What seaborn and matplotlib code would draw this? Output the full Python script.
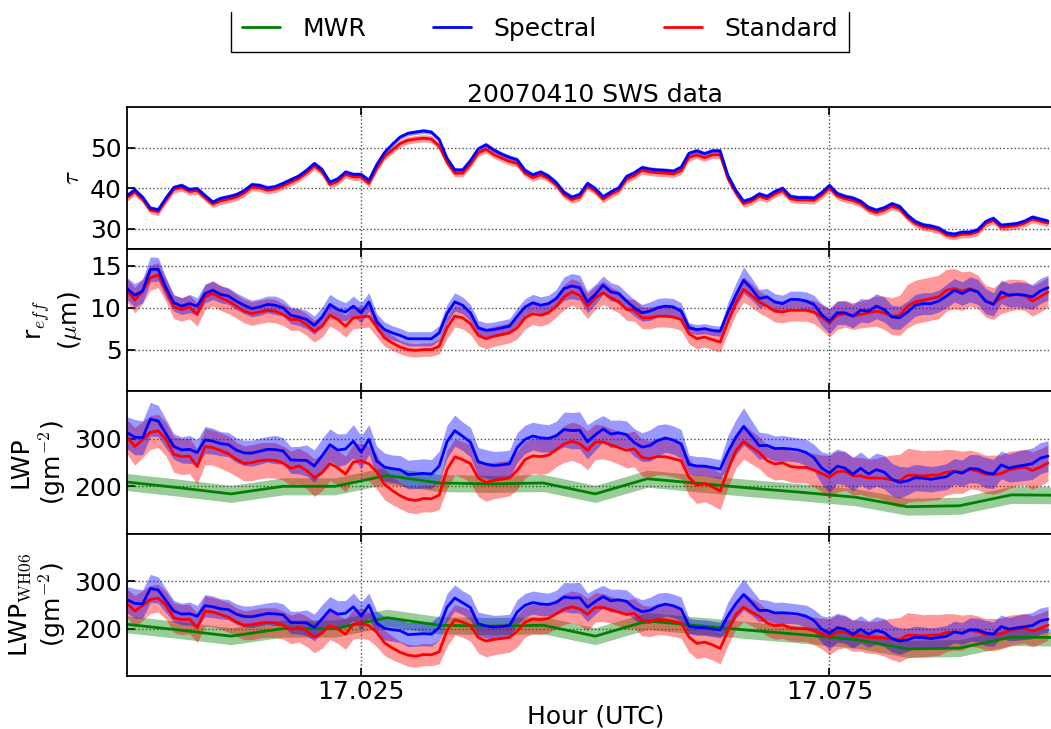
import numpy as np
import pandas as pd
import matplotlib
matplotlib.use("Agg")
import matplotlib.pyplot as plt
import seaborn as sns
from matplotlib.lines import Line2D
from matplotlib.ticker import FormatStrFormatter

# SWS retrievals, sampled every 3 s after 17:00 UTC on 2007-04-10
SECONDS = np.arange(0, 355, 3)

TAU_SPECTRAL = [
    38.2, 39.6, 37.8, 35.1, 34.7, 37.6, 40.2, 40.7, 39.7, 39.9,
    38.2, 36.6, 37.5, 37.9, 38.4, 39.4, 40.9, 40.7, 40.1, 40.4,
    41.2, 42.1, 43.0, 44.4, 46.1, 44.6, 41.5, 42.3, 44.0, 43.4,
    43.4, 41.9, 45.8, 48.8, 50.8, 52.6, 53.5, 53.8, 54.1, 53.8,
    52.0, 47.4, 44.5, 44.5, 46.8, 49.7, 50.7, 49.4, 48.4, 47.6,
    47.0, 44.4, 43.3, 44.0, 43.0, 41.4, 39.0, 37.8, 38.5, 41.2,
    39.9, 37.9, 39.1, 40.1, 42.9, 43.8, 45.1, 44.7, 44.5, 44.4,
    44.2, 45.2, 48.6, 49.2, 48.5, 49.2, 49.2, 43.1, 39.5, 36.8,
    37.4, 38.6, 38.0, 39.2, 40.0, 38.0, 37.7, 37.7, 37.6, 38.9,
    40.7, 38.7, 38.0, 37.6, 36.8, 35.3, 34.6, 35.2, 36.2, 35.5,
    33.4, 31.8, 31.0, 30.7, 30.2, 29.0, 28.7, 29.2, 29.2, 29.8,
    31.8, 32.6, 30.9, 31.1, 31.3, 31.9, 32.9, 32.4, 31.9,
]
TAU_STANDARD = [
    37.7, 39.1, 37.3, 34.6, 34.2, 37.1, 39.7, 40.2, 39.2, 39.4,
    37.7, 36.1, 36.9, 37.3, 37.8, 38.8, 40.3, 40.1, 39.5, 39.8,
    40.6, 41.5, 42.4, 43.8, 45.5, 44.0, 40.9, 41.7, 43.4, 42.8,
    42.8, 41.2, 44.9, 47.8, 49.4, 51.0, 51.8, 52.1, 52.3, 52.1,
    50.4, 46.4, 43.7, 43.7, 45.9, 48.7, 49.6, 48.3, 47.4, 46.6,
    46.1, 43.7, 42.6, 43.3, 42.4, 40.8, 38.4, 37.2, 37.8, 40.6,
    39.3, 37.3, 38.5, 39.5, 42.2, 43.1, 44.4, 44.0, 43.8, 43.7,
    43.5, 44.3, 47.6, 48.2, 47.5, 48.2, 48.2, 42.4, 38.9, 36.2,
    36.8, 38.0, 37.4, 38.6, 39.4, 37.4, 37.1, 37.1, 37.0, 38.3,
    40.1, 38.1, 37.4, 37.0, 36.2, 34.7, 34.0, 34.6, 35.6, 34.9,
    32.8, 31.3, 30.5, 30.2, 29.7, 28.5, 28.2, 28.7, 28.7, 29.3,
    31.3, 32.1, 30.4, 30.6, 30.8, 31.4, 32.4, 31.9, 31.4,
]
TAU_ERR_SPECTRAL = 0.6
TAU_ERR_STANDARD = 0.9

# effective radius (micron)
REFF_SPECTRAL = [
    12.3, 11.5, 12.0, 14.6, 14.6, 12.4, 10.6, 10.2, 10.5, 10.2,
    11.7, 12.1, 11.6, 11.4, 10.8, 10.3, 9.9, 10.1, 10.4, 10.3,
    10.0, 9.1, 8.9, 8.6, 7.9, 8.9, 10.4, 9.8, 9.5, 10.2,
    9.4, 10.7, 8.3, 7.4, 7.0, 6.7, 6.3, 6.3, 6.3, 6.3,
    7.0, 9.3, 10.7, 10.3, 9.4, 7.6, 7.3, 7.4, 7.6, 7.8,
    9.0, 10.1, 10.6, 10.3, 10.5, 11.1, 12.3, 12.6, 12.4, 10.7,
    11.6, 12.7, 11.9, 11.7, 10.8, 10.0, 9.4, 9.6, 10.0, 10.2,
    10.1, 9.6, 7.6, 7.4, 7.5, 7.3, 7.2, 9.5, 11.5, 13.3,
    12.3, 11.1, 11.3, 10.7, 10.5, 11.0, 11.0, 10.8, 10.4, 9.2,
    8.4, 9.4, 9.4, 9.0, 9.7, 9.6, 10.2, 9.8, 8.9, 8.8,
    9.5, 10.3, 10.5, 10.5, 10.8, 11.4, 12.1, 11.7, 12.2, 11.9,
    10.8, 10.4, 11.9, 11.5, 11.6, 11.5, 11.3, 12.0, 12.4,
]
REFF_STANDARD = [
    12.1, 10.9, 12.0, 13.6, 13.9, 12.1, 10.1, 9.8, 10.1, 9.2,
    11.3, 11.7, 11.2, 10.8, 10.2, 9.6, 9.3, 9.5, 9.7, 9.6,
    9.2, 8.6, 8.6, 8.0, 7.2, 7.8, 9.1, 8.6, 7.8, 8.8,
    8.9, 9.0, 7.7, 6.4, 5.8, 5.3, 5.0, 4.9, 5.0, 5.0,
    5.4, 7.6, 9.0, 8.8, 8.1, 6.7, 6.3, 6.6, 6.8, 7.0,
    7.6, 8.8, 9.3, 9.1, 9.4, 10.2, 11.3, 11.9, 11.5, 10.2,
    11.2, 11.8, 11.2, 10.7, 9.8, 9.7, 8.8, 8.8, 9.0, 9.0,
    8.9, 8.6, 6.9, 6.3, 6.5, 6.2, 5.9, 8.3, 10.6, 12.2,
    11.5, 10.7, 10.2, 9.6, 9.5, 9.7, 9.7, 9.7, 9.5, 8.9,
    8.2, 9.1, 9.3, 9.0, 9.2, 9.4, 9.6, 9.4, 9.0, 9.1,
    10.2, 10.7, 10.9, 11.1, 11.3, 12.1, 12.3, 12.0, 12.3, 11.9,
    10.8, 10.5, 11.2, 11.5, 11.6, 11.5, 10.8, 11.3, 11.9,
]
REFF_ERR_SPECTRAL = [
    1.3, 1.4, 1.4, 1.5, 1.4, 1.2, 1.0, 1.0, 1.1, 1.0,
    1.1, 1.1, 1.0, 1.0, 1.0, 1.0, 1.0, 1.0, 1.0, 1.1,
    1.0, 1.0, 1.0, 1.1, 1.1, 1.2, 1.2, 1.2, 1.1, 1.2,
    1.2, 1.1, 1.0, 0.9, 0.85, 0.85, 0.85, 0.85, 0.85, 0.85,
    0.9, 1.1, 1.1, 1.0, 1.0, 0.9, 0.9, 0.9, 0.9, 0.9,
    1.0, 1.0, 1.0, 1.0, 1.0, 1.1, 1.4, 1.5, 1.5, 1.3,
    1.2, 1.1, 1.1, 1.0, 1.0, 1.0, 1.0, 1.1, 1.1, 1.0,
    1.0, 1.0, 0.6, 0.6, 0.6, 0.6, 0.6, 1.2, 1.4, 1.6,
    1.3, 1.1, 1.0, 1.0, 1.0, 1.0, 1.0, 1.1, 1.1, 1.3,
    1.5, 1.4, 1.4, 1.4, 1.4, 1.4, 1.5, 1.5, 1.4, 1.4,
    1.3, 1.3, 1.3, 1.3, 1.3, 1.4, 1.4, 1.4, 1.5, 1.5,
    1.5, 1.4, 1.4, 1.4, 1.5, 1.5, 1.5, 1.5, 1.5,
]
REFF_ERR_STANDARD = [
    1.4, 1.5, 1.5, 1.5, 1.5, 1.4, 1.4, 1.4, 1.4, 1.4,
    1.5, 1.5, 1.5, 1.5, 1.4, 1.4, 1.4, 1.4, 1.4, 1.4,
    1.3, 1.3, 1.3, 1.3, 1.3, 1.3, 1.3, 1.3, 1.3, 1.3,
    1.3, 1.3, 1.2, 1.0, 0.9, 0.8, 0.8, 0.8, 0.8, 0.8,
    0.9, 1.3, 1.3, 1.3, 1.3, 1.2, 1.2, 1.2, 1.2, 1.2,
    1.3, 1.3, 1.3, 1.3, 1.3, 1.3, 1.5, 1.6, 1.6, 1.5,
    1.4, 1.4, 1.3, 1.3, 1.3, 1.3, 1.3, 1.3, 1.3, 1.3,
    1.3, 1.3, 1.2, 1.2, 1.2, 1.2, 1.2, 1.3, 1.4, 1.5,
    1.4, 1.3, 1.3, 1.3, 1.3, 1.3, 1.3, 1.3, 1.4, 1.5,
    1.7, 1.7, 1.6, 1.6, 1.6, 1.7, 1.8, 2.0, 2.2, 2.4,
    2.6, 2.6, 2.6, 2.6, 2.6, 2.5, 2.4, 2.3, 2.1, 2.0,
    1.9, 1.9, 1.9, 1.9, 1.8, 1.8, 1.8, 1.8, 1.8,
]

# microwave radiometer LWP (g m^-2), 20 s samples
MWR_SECONDS = [0, 20, 40, 60, 80, 100, 120, 140, 160, 180,
               200, 220, 240, 260, 280, 300, 320, 340, 360]
MWR_LWP = [209, 197, 184, 200, 200, 223, 207, 205, 207, 184,
           216, 206, 196, 187, 177, 157, 159, 182, 181]
MWR_ERR = 18.0

COLORS = {"MWR": "green", "Spectral": "blue", "Standard": "red"}
FS = 18

sns.set_theme(style="white")
plt.rcParams.update({
    "font.family": ["DejaVu Sans"],
    "mathtext.fontset": "cm",
    "font.size": FS,
    "text.color": "black",
    "axes.labelcolor": "black",
    "axes.edgecolor": "black",
    "axes.linewidth": 1.3,
    "xtick.direction": "in",
    "ytick.direction": "in",
    "xtick.major.size": 6,
    "ytick.major.size": 6,
    "xtick.major.pad": 3,
    "ytick.major.pad": 4,
    "xtick.color": "black",
    "ytick.color": "black",
    "xtick.labelsize": FS,
    "ytick.labelsize": FS,
})


def product_frame(name, tau, tau_err, reff, reff_err):
    tau = np.asarray(tau, float)
    reff = np.asarray(reff, float)
    reff_err = np.asarray(reff_err, float)
    rel = np.sqrt((tau_err / tau) ** 2 + (reff_err / reff) ** 2)
    lwp = 2.0 / 3.0 * tau * reff           # rho_w = 1 g cm^-3
    lwp_wh06 = 5.0 / 9.0 * tau * reff      # Wood & Hartmann (2006) form
    return pd.DataFrame({
        "hour": 17.0 + SECONDS / 3600.0,
        "product": name,
        "tau": tau, "tau_err": np.full_like(tau, tau_err),
        "reff": reff, "reff_err": reff_err,
        "lwp": lwp, "lwp_err": lwp * rel,
        "lwp_wh06": lwp_wh06, "lwp_wh06_err": lwp_wh06 * rel,
    })


sws = pd.concat([
    product_frame("Standard", TAU_STANDARD, TAU_ERR_STANDARD, REFF_STANDARD, REFF_ERR_STANDARD),
    product_frame("Spectral", TAU_SPECTRAL, TAU_ERR_SPECTRAL, REFF_SPECTRAL, REFF_ERR_SPECTRAL),
], ignore_index=True)

mwr = pd.DataFrame({
    "hour": 17.0 + np.asarray(MWR_SECONDS) / 3600.0,
    "lwp": np.asarray(MWR_LWP, float),
})

fig = plt.figure(figsize=(10.51, 7.29), dpi=100)
left, width = 0.1208, 0.8912
height = 0.19515
bottom0 = 0.0727
axes = []
for i in range(4):
    rect = [left, bottom0 + (3 - i) * height, width, height]
    ax = fig.add_axes(rect, sharex=axes[0] if axes else None)
    axes.append(ax)

panels = [
    ("tau", r"$\tau$", (25, 60), [30, 40, 50], False),
    ("reff", "r$_{eff}$\n($\\mu$m)", (0, 17), [5, 10, 15], False),
    ("lwp", "LWP\n(gm$^{-2}$)", (100, 400), [200, 300], True),
    ("lwp_wh06", "LWP$_{\\mathrm{WH06}}$\n(gm$^{-2}$)", (100, 400), [200, 300], True),
]

for ax, (col, label, ylim, yticks, with_mwr) in zip(axes, panels):
    if with_mwr:
        ax.fill_between(mwr["hour"], mwr["lwp"] - MWR_ERR, mwr["lwp"] + MWR_ERR,
                        color=COLORS["MWR"], alpha=0.4, linewidth=0)
    for name in ["Standard", "Spectral"]:
        d = sws[sws["product"] == name]
        ax.fill_between(d["hour"], d[col] - d[col + "_err"], d[col] + d[col + "_err"],
                        color=COLORS[name], alpha=0.4, linewidth=0)
    if with_mwr:
        sns.lineplot(data=mwr, x="hour", y="lwp", color=COLORS["MWR"],
                     linewidth=2, ax=ax, errorbar=None)
    sns.lineplot(data=sws, x="hour", y=col, hue="product",
                 hue_order=["Standard", "Spectral"], palette=COLORS,
                 linewidth=2, ax=ax, legend=False, errorbar=None)
    ax.set_ylim(*ylim)
    ax.set_yticks(yticks)
    ax.set_ylabel(label, fontsize=FS)
    ax.set_xlabel("")
    ax.grid(True, linestyle=":", color="0.3", linewidth=1)
    ax.tick_params(axis="both", which="major", right=True, top=True, left=True,
                   bottom=True, labelsize=FS)
    for s in ax.spines.values():
        s.set_color("black")

axes[0].set_xlim(17.0, 17.1)
axes[-1].set_xticks([17.025, 17.075])
axes[-1].xaxis.set_major_formatter(FormatStrFormatter("%.3f"))
for ax in axes[:-1]:
    ax.tick_params(labelbottom=False)
axes[-1].set_xlabel("Hour (UTC)", fontsize=FS, labelpad=0)
axes[0].set_title("20070410 SWS data", fontsize=FS, pad=2.5)

handles = [Line2D([], [], color=COLORS[k], linewidth=2) for k in ["MWR", "Spectral", "Standard"]]
leg = fig.legend(handles, ["MWR", "Spectral", "Standard"], loc="lower center",
                 bbox_to_anchor=(0.5138, 1 - 52 / 729), ncol=3, fontsize=FS,
                 frameon=False, handlelength=1.5, handletextpad=0.9,
                 columnspacing=2.7, borderpad=0.45, borderaxespad=0)

# open-topped frame around the legend (left, bottom and right edges only)
fig.canvas.draw()
bb = leg.get_window_extent().transformed(fig.transFigure.inverted())
top = 1 - 12 / 729
frame_kw = dict(color="black", linewidth=1.0, transform=fig.transFigure)
fig.add_artist(Line2D([bb.x0, bb.x0, bb.x1, bb.x1], [top, bb.y0, bb.y0, top], **frame_kw))

fig.savefig("out.png", dpi=100)
